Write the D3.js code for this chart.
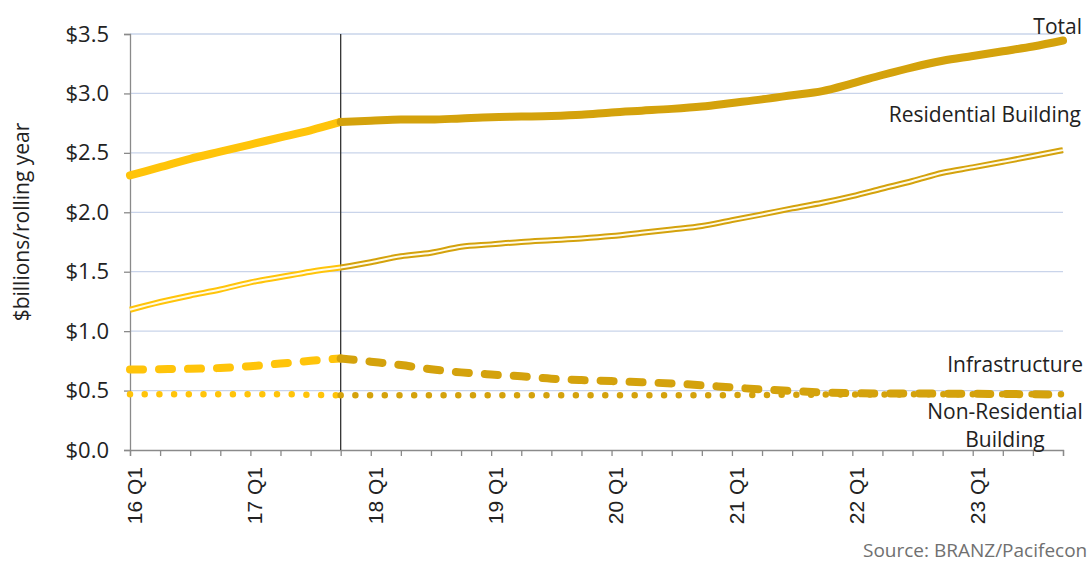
<!DOCTYPE html>
<html>
<head>
<meta charset="utf-8">
<script src="https://cdn.jsdelivr.net/npm/d3@7"></script>
<style>
  body { margin: 0; background: #fff; overflow: hidden; }
  text { font-family: "Open Sans", sans-serif; }
</style>
</head>
<body>
<div id="chart"></div>
<script>
// quarters 16 Q1 .. 23 Q4
var years = ["16", "17", "18", "19", "20", "21", "22", "23"];
var quarters = [];
years.forEach(function(y) {
    [1, 2, 3, 4].forEach(function(q) { quarters.push(y + " Q" + q); });
});

var totalValues = [2.31, 2.38, 2.45, 2.51, 2.57, 2.63, 2.69, 2.76,
                   2.77, 2.78, 2.78, 2.79, 2.80, 2.805, 2.81, 2.82,
                   2.84, 2.855, 2.87, 2.89, 2.92, 2.95, 2.985, 3.02,
                   3.085, 3.155, 3.22, 3.275, 3.315, 3.355, 3.395, 3.445];
var residentialValues = [1.18, 1.245, 1.30, 1.35, 1.41, 1.455, 1.50, 1.535,
                         1.58, 1.63, 1.66, 1.71, 1.73, 1.75, 1.765, 1.78,
                         1.80, 1.827, 1.855, 1.884, 1.934, 1.982, 2.033, 2.08,
                         2.136, 2.20, 2.263, 2.333, 2.378, 2.425, 2.473, 2.523];
var infraValues = [0.677, 0.68, 0.683, 0.69, 0.705, 0.727, 0.75, 0.77,
                   0.743, 0.715, 0.68, 0.653, 0.635, 0.62, 0.60, 0.588,
                   0.58, 0.57, 0.56, 0.545, 0.526, 0.51, 0.497, 0.484,
                   0.478, 0.475, 0.475, 0.474, 0.473, 0.471, 0.469, 0.465];
var nonResValues = [0.47, 0.47, 0.47, 0.47, 0.47, 0.47, 0.465, 0.46,
                    0.46, 0.46, 0.46, 0.46, 0.46, 0.46, 0.46, 0.46,
                    0.46, 0.46, 0.46, 0.46, 0.462, 0.463, 0.465, 0.466,
                    0.467, 0.468, 0.468, 0.469, 0.47, 0.47, 0.47, 0.47];
var yTicks = [0, 0.5, 1.0, 1.5, 2.0, 2.5, 3.0, 3.5];
var splitQuarter = "17 Q4";   // actuals to forecast

var width = 1088, height = 563;
var margin = {top: 34, right: 25, bottom: 113, left: 130};
var w = width - margin.left - margin.right,
    h = height - margin.top - margin.bottom;

var actualColor = "#FFC40A",
    forecastColor = "#D4A20C";

var svg = d3.select("#chart").append("svg")
    .attr("width", width)
    .attr("height", height)
    .append("g")
    .attr("transform", "translate(" + margin.left + "," + margin.top + ")");

var x = d3.scalePoint().domain(quarters).range([0, w]);
var y = d3.scaleLinear().domain([0, 3.5]).range([h, 0]);

// gridlines
svg.selectAll(".grid")
    .data(yTicks.slice(1))
    .enter().append("line")
    .attr("x1", 0).attr("x2", w)
    .attr("y1", function(d) { return y(d); })
    .attr("y2", function(d) { return y(d); })
    .attr("stroke", "#c9d4ea")
    .attr("stroke-width", 1.3);

// y axis
var yAxis = d3.axisLeft(y)
    .tickValues(yTicks)
    .tickSize(6)
    .tickFormat(function(d) { return "$" + d3.format(".1f")(d); });
var gy = svg.append("g").call(yAxis);
gy.select(".domain").attr("stroke", "#8a8a8a").attr("stroke-width", 1.3);
gy.selectAll(".tick line").attr("stroke", "#8a8a8a").attr("stroke-width", 1.3);
gy.selectAll(".tick text")
    .attr("x", -21)
    .style("font-family", "Open Sans, sans-serif")
    .style("font-size", "22px")
    .attr("fill", "#222");

// x axis
var xAxis = d3.axisBottom(x)
    .tickSize(6)
    .tickFormat(function(d) { return d.slice(-2) == "Q1" ? d : ""; });
var gx = svg.append("g")
    .attr("transform", "translate(0," + h + ")")
    .call(xAxis);
gx.select(".domain").attr("stroke", "#8a8a8a").attr("stroke-width", 1.3);
gx.selectAll(".tick line").attr("stroke", "#8a8a8a").attr("stroke-width", 1.3);
gx.selectAll(".tick text")
    .attr("transform", "rotate(-90)")
    .attr("x", -17)
    .attr("y", 4)
    .attr("dy", "0.35em")
    .style("text-anchor", "end")
    .style("font-family", "Liberation Sans, Arial, sans-serif")
    .style("font-size", "21px")
    .attr("fill", "#222");

// split marker
svg.append("line")
    .attr("x1", x(splitQuarter)).attr("x2", x(splitQuarter))
    .attr("y1", 0).attr("y2", h)
    .attr("stroke", "#333")
    .attr("stroke-width", 1.3);

var splitIndex = quarters.indexOf(splitQuarter);

function pieces(values) {
    var pts = values.map(function(v, i) { return {q: quarters[i], v: v}; });
    return [pts.slice(0, splitIndex + 1), pts.slice(splitIndex)];
}

var line = d3.line()
    .x(function(d) { return x(d.q); })
    .y(function(d) { return y(d.v); })
    .curve(d3.curveMonotoneX);

function drawSeries(values, style) {
    var parts = pieces(values);
    [actualColor, forecastColor].forEach(function(c, i) {
        var p = svg.append("path")
            .datum(parts[i])
            .attr("d", line)
            .attr("fill", "none")
            .attr("stroke", c)
            .attr("stroke-width", style.width)
            .attr("stroke-linecap", style.cap || "butt")
            .attr("stroke-linejoin", "round");
        if (style.dash) p.attr("stroke-dasharray", style.dash);
        if (style.inner) {
            svg.append("path")
                .datum(parts[i])
                .attr("d", line)
                .attr("fill", "none")
                .attr("stroke", "#fffbe8")
                .attr("stroke-width", style.inner);
        }
    });
}

drawSeries(nonResValues, {width: 6.5, dash: "0,14.7", cap: "round"});
drawSeries(infraValues, {width: 8, dash: "13,16", cap: "round"});
drawSeries(residentialValues, {width: 6, inner: 2});
drawSeries(totalValues, {width: 8, cap: "round"});

// series labels
var labels = [
    {text: "Total", x: 952, y: 27, anchor: "end"},
    {text: "Residential Building", x: 951, y: 115, anchor: "end"},
    {text: "Infrastructure", x: 953, y: 365, anchor: "end"},
    {text: "Non-Residential", x: 875, y: 412, anchor: "middle"},
    {text: "Building", x: 875, y: 440, anchor: "middle"}
];
svg.selectAll(".series-label")
    .data(labels)
    .enter().append("text")
    .attr("x", function(d) { return d.x; })
    .attr("y", function(d) { return d.y - margin.top; })
    .attr("dy", "0.35em")
    .style("text-anchor", function(d) { return d.anchor; })
    .style("font-size", "21px")
    .attr("fill", "#222")
    .text(function(d) { return d.text; });

// y axis title
svg.append("text")
    .attr("transform", "rotate(-90)")
    .attr("x", -(222 - margin.top))
    .attr("y", 22 - margin.left)
    .attr("dy", "0.35em")
    .style("text-anchor", "middle")
    .style("font-size", "21px")
    .attr("fill", "#222")
    .text("$billions/rolling year");

// source
svg.append("text")
    .attr("x", 863 - margin.left)
    .attr("y", 550 - margin.top)
    .attr("dy", "0.35em")
    .style("font-size", "19px")
    .attr("fill", "#707070")
    .text("Source: BRANZ/Pacifecon");
</script>
</body>
</html>
